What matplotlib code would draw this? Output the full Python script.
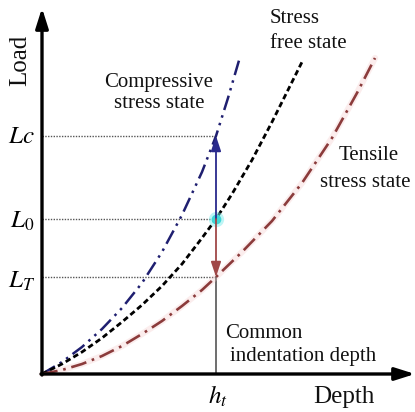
import matplotlib
matplotlib.use("Agg")
import matplotlib.pyplot as plt

plt.rcParams["mathtext.fontset"] = "stix"
SERIF = "Liberation Serif"

# Load-depth curves (depth, load) for the three residual stress states
comp_depth = [0, 20, 40, 60, 80, 100, 120, 140, 160, 174, 186, 198]
comp_load = [0, 12, 27, 45, 66, 91, 122, 159, 202, 238, 276, 317]

free_depth = [0, 20, 40, 60, 80, 100, 120, 140, 160, 174, 190, 210, 230, 250, 261]
free_load = [0, 10, 22, 36, 52, 69, 88, 110, 136, 155, 180, 214, 252, 292, 314]

tens_depth = [0, 20, 40, 60, 80, 100, 120, 140, 160, 174, 200, 230, 260, 290, 315, 333]
tens_load = [0, 4, 10, 18, 28, 40, 53, 68, 84, 97, 122, 153, 191, 236, 281, 316]

# Common indentation depth and the loads reached there
h_t = 174
L_c = 238
L_0 = 155
L_T = 97

fig = plt.figure(figsize=(4.15, 4.12), dpi=100)
ax = fig.add_axes([42 / 415, 38 / 412, 373 / 415, 374 / 412])
ax.set_xlim(0, 373)
ax.set_ylim(0, 374)
ax.axis("off")

# axes with arrowheads
arrow_kw = dict(arrowstyle="-|>,head_length=1.2,head_width=0.38", lw=2.4,
                color="black", shrinkA=0, shrinkB=0)
ax.annotate("", xy=(0, 366), xytext=(0, -1), arrowprops=arrow_kw,
            annotation_clip=False)
ax.annotate("", xy=(373, 0), xytext=(-1, 0), arrowprops=arrow_kw,
            annotation_clip=False)

# reference load levels
for lv in (L_c, L_0, L_T):
    ax.plot([0, h_t], [lv, lv], color="#555555", lw=1.0,
            linestyle=(0, (1, 1)), clip_on=False)

# common indentation depth line
ax.plot([h_t, h_t], [0, L_T], color="#555555", lw=1.2)

# curves
ax.plot(tens_depth, tens_load, color="#f4c4c4", lw=4.5, alpha=0.3,
        solid_capstyle="round", clip_on=False)
ax.plot(comp_depth, comp_load, color="#1f1f70", lw=1.8,
        linestyle=(0, (6, 2.2, 1, 2.2, 1, 2.2)), clip_on=False)
ax.plot(free_depth, free_load, color="black", lw=2.0,
        linestyle=(0, (2.0, 1.2)), clip_on=False)
ax.plot(tens_depth, tens_load, color="#8b3b3b", lw=1.9,
        linestyle=(0, (6, 2.2, 1, 2.2)), clip_on=False)

# load shift arrows at the common depth
ax.annotate("", xy=(h_t, L_c), xytext=(h_t, L_0),
            arrowprops=dict(arrowstyle="-|>,head_length=0.9,head_width=0.3",
                            lw=1.3, color="#2a2a8c", shrinkA=0, shrinkB=0))
ax.annotate("", xy=(h_t, L_T), xytext=(h_t, L_0),
            arrowprops=dict(arrowstyle="-|>,head_length=0.9,head_width=0.3",
                            lw=1.3, color="#a04848", shrinkA=0, shrinkB=0))

ax.plot([h_t], [L_0], "o", ms=11, color="#7fecec", alpha=0.5, mec="none")
ax.plot([h_t], [L_0], "o", ms=7, color="#3fd6d6", mec="none")

# labels
txt = dict(family=SERIF, color="#111111", clip_on=False)
ax.text(-22, 314, "Load", fontsize=18, rotation=90, ha="center", va="center", **txt)
ax.text(302, -23, "Depth", fontsize=18, ha="center", va="center", **txt)

ax.text(117, 292, "Compressive", fontsize=15, ha="center", va="center", **txt)
ax.text(117, 271, "stress state", fontsize=15, ha="center", va="center", **txt)
ax.text(228, 356, "Stress", fontsize=15, ha="left", va="center", **txt)
ax.text(228, 331, "free state", fontsize=15, ha="left", va="center", **txt)
ax.text(327, 219, "Tensile", fontsize=15, ha="center", va="center", **txt)
ax.text(323, 192, "stress state", fontsize=15, ha="center", va="center", **txt)
ax.text(183, 41, "Common", fontsize=15, ha="left", va="center", **txt)
ax.text(188, 17, "indentation depth", fontsize=15, ha="left", va="center", **txt)

ax.text(-21, L_c, r"$Lc$", fontsize=18, ha="center", va="center", clip_on=False)
ax.text(-20, L_0 - 2, r"$L_0$", fontsize=18, ha="center", va="center", clip_on=False)
ax.text(-20, L_T - 4, r"$L_T$", fontsize=18, ha="center", va="center", clip_on=False)
ax.text(h_t + 2, -22, r"$h_t$", fontsize=18, ha="center", va="center", clip_on=False)

fig.savefig("out.png", dpi=100)
